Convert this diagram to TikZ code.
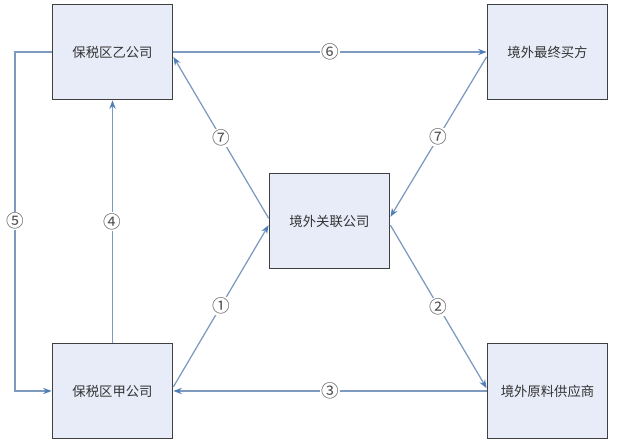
\documentclass[tikz,border=0pt]{standalone}
\usepackage{fontspec}
\usepackage{tikz}
\usetikzlibrary{positioning, arrows.meta}
\newfontfamily\cjk{Noto Sans CJK SC}
\definecolor{boxFill}{HTML}{e8ecf8}
\definecolor{boxB}{HTML}{404040}
\definecolor{boxTxt}{HTML}{333333}
\definecolor{flowLine}{HTML}{7f9abf}
\definecolor{flowTip}{HTML}{4f7fb8}
\definecolor{numTxt}{HTML}{505050}

\begin{document}
\begin{tikzpicture}[x=0.025cm, y=-0.025cm, co/.style={draw=boxB, fill=boxFill, line width=1.3pt, minimum width=3cm, minimum height=2.375cm, font=\cjk\fontsize{9.5}{11}\selectfont, text=boxTxt},flw/.style={draw=flowLine, line width=0.9pt, -{Stealth[length=6pt, width=4.5pt, color=flowTip]}},num/.style={fill=white, inner sep=0.6pt, font=\cjk\fontsize{12.5}{12.5}\selectfont, text=numTxt}]
\useasboundingbox (0,0) rectangle (617,445);
\node[co] (yi) at (112.5,52) {保税区乙公司};
\node[co] (buyer) at (547.5,52) {境外最终买方};
\node[co] (hub) at (329.5,221) {境外关联公司};
\node[co] (jia) at (112.5,391) {保税区甲公司};
\node[co] (supp) at (547.5,391) {境外原料供应商};
\coordinate (lft) at (15,221);
\draw[flw] (yi.east) -- node[num] {⑥} (buyer.west);
\draw[flw] ([yshift=2pt]hub.west) -- node[num] {⑦} ([yshift=-3.5pt]yi.east);
\draw[flw] ([yshift=-3.5pt]buyer.west) -- node[num] {⑦} ([yshift=3pt]hub.east);
\draw[flw] ([yshift=-3pt]hub.east) -- node[num] {②} ([yshift=2pt]supp.west);
\draw[flw] (supp.west) -- node[num] {③} (jia.east);
\draw[flw] ([yshift=3pt]jia.east) -- node[num] {①} ([yshift=-3pt]hub.west);
\draw[flw] (jia.north) -- node[num] {④} (yi.south);
\draw[flw] (yi.west) -| (lft) node[num] {⑤} |- (jia.west);
\end{tikzpicture}
\end{document}
